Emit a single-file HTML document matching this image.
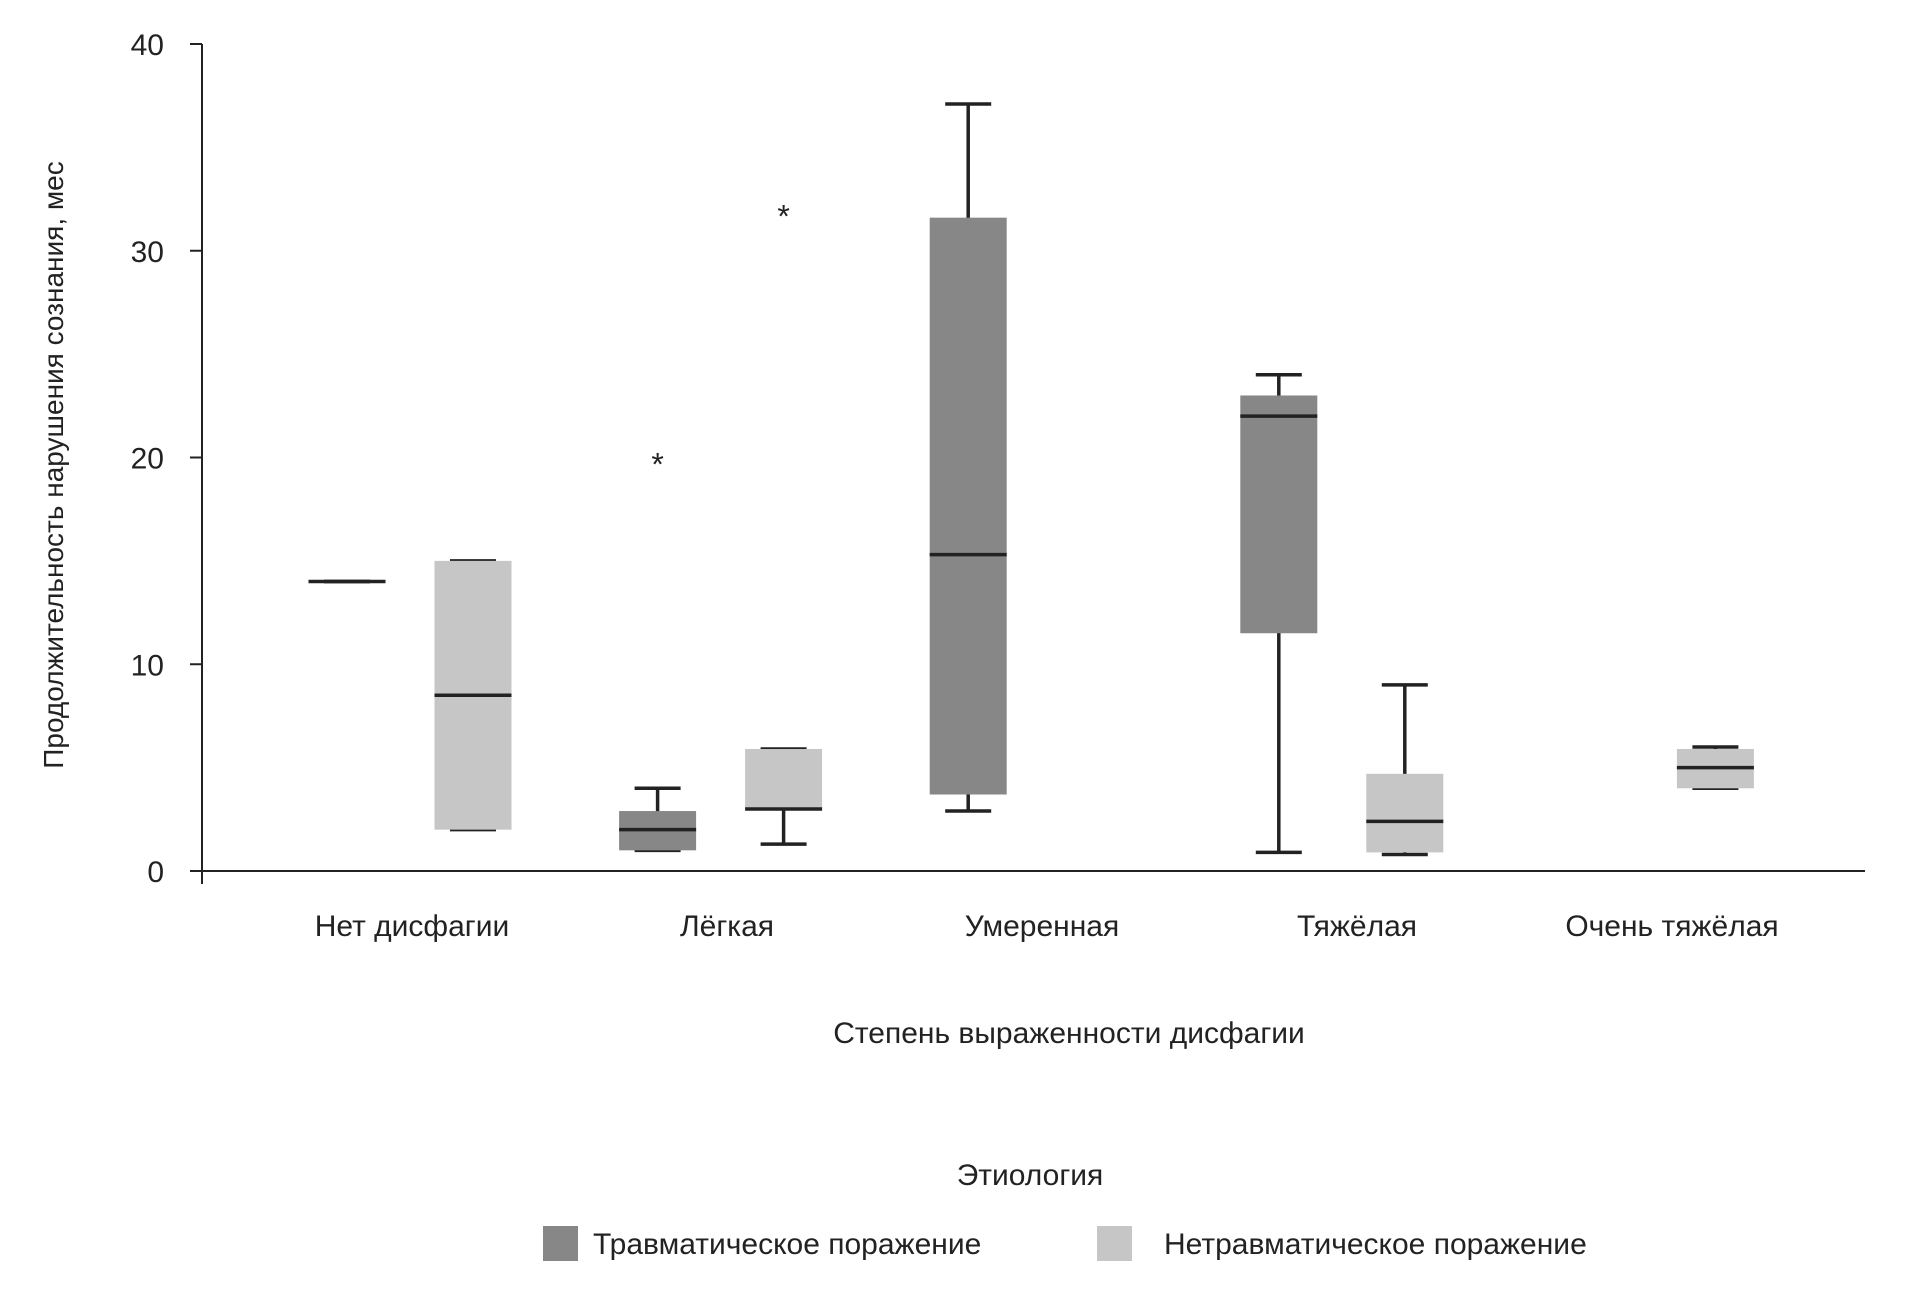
<!DOCTYPE html>
<html><head><meta charset="utf-8"><style>
body{margin:0;background:#fff;}
svg{display:block;font-family:"Liberation Sans Narrow","Liberation Sans",sans-serif;}
</style></head><body>
<svg id="chart" width="1905" height="1308">
<g id="axes"></g><g id="marks"></g>
<text x="63" y="465" transform="rotate(-90 63 465)" text-anchor="middle" font-size="28" fill="#222">Продолжительность нарушения сознания, мес</text>
<text x="1069" y="1043" text-anchor="middle" font-size="30" fill="#222">Степень выраженности дисфагии</text>
<text x="1030" y="1185" text-anchor="middle" font-size="30" fill="#222">Этиология</text>
<rect x="543" y="1226" width="35" height="35" fill="#878787"/>
<text x="593" y="1254" font-size="30" fill="#222">Травматическое поражение</text>
<rect x="1097" y="1226" width="35" height="35" fill="#c6c6c6"/>
<text x="1164" y="1254" font-size="30" fill="#222">Нетравматическое поражение</text>
</svg>
<script>
const categories=["Нет дисфагии","Лёгкая","Умеренная","Тяжёлая","Очень тяжёлая"];
const yTicks=[0,10,20,30,40];
// [min,q1,median,q3,max] or null
const traumatic=[[14,14,14,14,14],[1,1,2,2.9,4],[2.9,3.7,15.3,31.6,37.1],[0.9,11.5,22,23,24],null];
const nontraumatic=[[2,2,8.5,15,15],[1.3,3,3,5.9,5.9],null,[0.8,0.9,2.4,4.7,9],[4,4,5,5.9,6]];
const traumaticOutliers=[null,20,null,null,null];
const nontraumaticOutliers=[null,32,null,null,null];
const NS="http://www.w3.org/2000/svg";
const y=v=>871-v*(827/40);
const xc=i=>410+i*310.6;
const xl=i=>412+i*315;
function mk(t,a,p){const e=document.createElementNS(NS,t);for(const k in a)e.setAttribute(k,a[k]);p.appendChild(e);return e;}
const ax=document.getElementById('axes'),mg=document.getElementById('marks');
let l=mk('line',{x1:202,y1:44,x2:202,y2:884,stroke:'#222','stroke-width':2},ax);


l=mk('line',{x1:202,y1:871,x2:1865,y2:871,stroke:'#222','stroke-width':2},ax);


yTicks.forEach(v=>{
 const t=mk('line',{x1:190,x2:202,y1:y(v),y2:y(v),stroke:'#222','stroke-width':2},ax);
 
 
 const tx=mk('text',{x:164,y:y(v)+11,'text-anchor':'end','font-size':30,fill:'#222'},ax);
 tx.textContent=v;
 
 
});
categories.forEach((c,i)=>{
 const tx=mk('text',{x:xl(i),y:936,'text-anchor':'middle','font-size':30,fill:'#222'},ax);
 tx.textContent=c;
 
 
});
function box(d,cx,fill,name){
 if(!d)return;
 const g=mk('g',{},mg);
 
 
 const w=77,cw=46,s='#222';
 mk('line',{x1:cx,x2:cx,y1:y(d[4]),y2:y(d[0]),stroke:s,'stroke-width':3.5},g);
 mk('line',{x1:cx-cw/2,x2:cx+cw/2,y1:y(d[4]),y2:y(d[4]),stroke:s,'stroke-width':3.5},g);
 mk('line',{x1:cx-cw/2,x2:cx+cw/2,y1:y(d[0]),y2:y(d[0]),stroke:s,'stroke-width':3.5},g);
 if(d[3]>d[1])mk('rect',{x:cx-w/2,y:y(d[3]),width:w,height:y(d[1])-y(d[3]),fill:fill},g);
 mk('line',{x1:cx-w/2,x2:cx+w/2,y1:y(d[2]),y2:y(d[2]),stroke:s,'stroke-width':3.5},g);
}
function outlier(v,cx,name){
 if(v==null)return;
 const t=mk('text',{x:cx,y:y(v)+18,'text-anchor':'middle','font-size':32,fill:'#222'},mg);
 t.textContent='*';
 
 
}
categories.forEach((c,i)=>{
 box(traumatic[i],xc(i)-63,'#878787','box-traumatic');
 box(nontraumatic[i],xc(i)+63,'#c6c6c6','box-nontraumatic');
 outlier(traumaticOutliers[i],xc(i)-63,'outlier-traumatic');
 outlier(nontraumaticOutliers[i],xc(i)+63,'outlier-nontraumatic');
});
</script>
</body></html>
